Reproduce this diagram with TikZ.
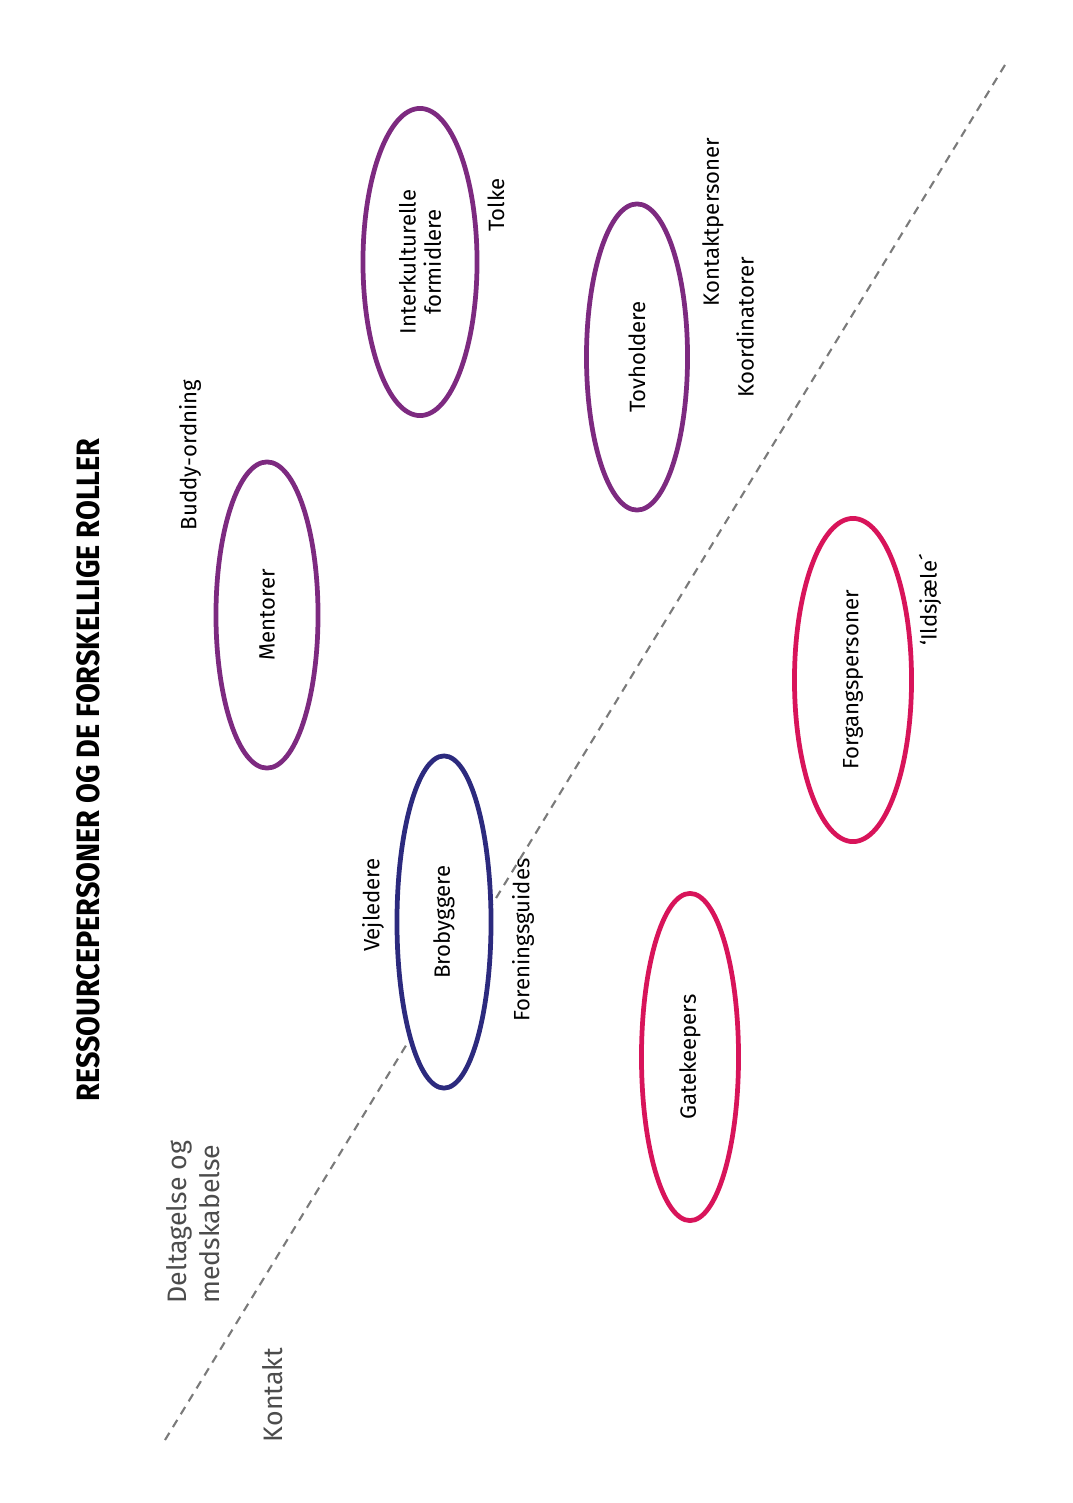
\documentclass[tikz,border=0pt]{standalone}
\usepackage{fontspec}
\setmainfont{Fira Sans}
\usetikzlibrary{shapes.geometric}
\definecolor{rolepurple}{HTML}{7D2A80}
\definecolor{roleblue}{HTML}{2C2A7E}
\definecolor{rolered}{HTML}{D8145A}
\definecolor{axisgray}{HTML}{7A7A7A}

\begin{document}
\begin{tikzpicture}[x=0.01cm, y=-0.01cm,
    role/.style={ellipse, draw, fill=white, line width=1.35pt, rotate=90, inner sep=0pt,
      align=center, font=\fontsize{6.3}{7.2}\selectfont},
    tag/.style={rotate=90, font=\fontsize{6.3}{7.2}\selectfont},
    axislabel/.style={rotate=90, text=black!70, font=\fontsize{7.6}{9.5}\selectfont}]
    \useasboundingbox (0,0) rectangle (1072,1503);
    \node[rotate=90, font=\bfseries\fontsize{9.2}{10}\selectfont] (title) at (88, 770)
      {\scalebox{0.89}[1]{RESSOURCEPERSONER OG DE FORSKELLIGE ROLLER}};
    % dashed divider
    \coordinate (lineStart) at (165, 1440);
    \coordinate (lineEnd) at (1008, 60);
    \draw[axisgray, line width=0.6pt, dash pattern=on 2.4pt off 1.9pt] (lineStart) -- (lineEnd);
    % roles
    \node[role, draw=rolepurple, minimum width=3.06cm, minimum height=1.02cm] (mentor) at (267, 615)
      {Mentorer};
    \node[role, draw=rolepurple, minimum width=3.07cm, minimum height=1.14cm] (formidler) at (420, 262)
      {Interkulturelle\\formidlere};
    \node[role, draw=rolepurple, minimum width=3.06cm, minimum height=1.01cm] (tovholder) at (637, 357)
      {Tovholdere};
    \node[role, draw=roleblue, minimum width=3.32cm, minimum height=0.94cm] (brobygger) at (444, 922)
      {Brobyggere};
    \node[role, draw=rolered, minimum width=3.23cm, minimum height=1.17cm] (forgang) at (853, 680)
      {Forgangspersoner};
    \node[role, draw=rolered, minimum width=3.27cm, minimum height=0.97cm] (gatekeeper) at (690, 1057)
      {Gatekeepers};
    % side labels
    \node[tag] (buddy) at (190, 455) {Buddy-ordning};
    \node[tag] (tolke) at (496, 205) {Tolke};
    \node[tag] (kontaktp) at (713, 222) {Kontaktpersoner};
    \node[tag] (koord) at (745, 327) {Koordinatorer};
    \node[tag] (vejleder) at (373, 905) {Vejledere};
    \node[tag] (forening) at (523, 940) {Foreningsguides};
    \node[tag] (ildsjael) at (930, 600) {`Ildsjæle´};
    \node[axislabel, align=left, anchor=west] (deltagelse) at (193, 1316)
      {Deltagelse og\\medskabelse};
    \node[axislabel] (kontakt) at (273, 1395) {Kontakt};
\end{tikzpicture}
\end{document}
